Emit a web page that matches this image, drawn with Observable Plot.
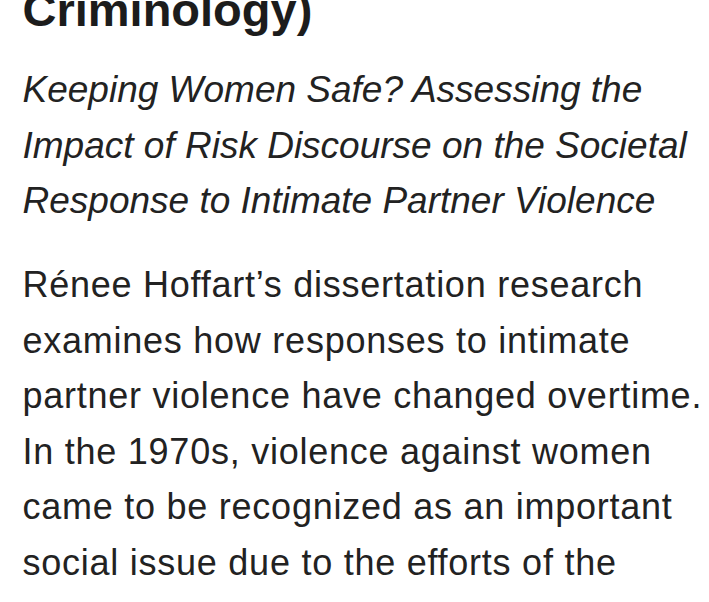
<!DOCTYPE html>
<html><head><meta charset="utf-8">
<script src="https://cdn.jsdelivr.net/npm/d3@7"></script>
<script src="https://cdn.jsdelivr.net/npm/@observablehq/plot@0.6"></script>
<style>
html,body{margin:0;padding:0;background:#fff;overflow:hidden}
</style>
</head><body><div id="chart"></div>
<script>
const titleLines = ["Criminology)"];
const subtitleLines = [
  "Keeping Women Safe? Assessing the",
  "Impact of Risk Discourse on the Societal",
  "Response to Intimate Partner Violence"
];
const bodyLines = [
  "Rénee Hoffart’s dissertation research",
  "examines how responses to intimate",
  "partner violence have changed overtime.",
  "In the 1970s, violence against women",
  "came to be recognized as an important",
  "social issue due to the efforts of the"
];

const rows = (lines) => lines.map((text, i) => ({text, line: i}));
const font = "'Liberation Sans', Arial, Helvetica, sans-serif";
const ink = "#222222";

const chart = Plot.plot({
  width: 709,
  height: 602,
  margin: 0,
  marginLeft: 22,
  y: {type: "linear", domain: [0, 1], range: [0, 55.5], axis: null},
  x: {axis: null},
  style: {background: "#fff"},
  marks: [
    Plot.text(rows(titleLines), {
      y: "line", text: "text", frameAnchor: "left", textAnchor: "start", lineAnchor: "bottom",
      dy: 25, fontSize: 47, fontWeight: "bold", fontFamily: font, fill: "#1c1c1c"
    }),
    Plot.text(rows(subtitleLines), {
      y: "line", text: "text", frameAnchor: "left", textAnchor: "start", lineAnchor: "bottom",
      dy: 101.5, fontSize: 37, fontStyle: "italic", fontFamily: font, fill: ink
    }),
    Plot.text(rows(bodyLines), {
      y: "line", text: "text", frameAnchor: "left", textAnchor: "start", lineAnchor: "bottom",
      dy: 296.7, fontSize: 36, fontFamily: font, fill: ink
    })
  ]
});
// body paragraph uses slightly wider tracking (Helvetica Neue-like)
const groups = chart.querySelectorAll('g[aria-label="text"]');
if (groups[2]) groups[2].setAttribute("letter-spacing", "0.75");
document.getElementById("chart").appendChild(chart);
</script>
</body></html>
